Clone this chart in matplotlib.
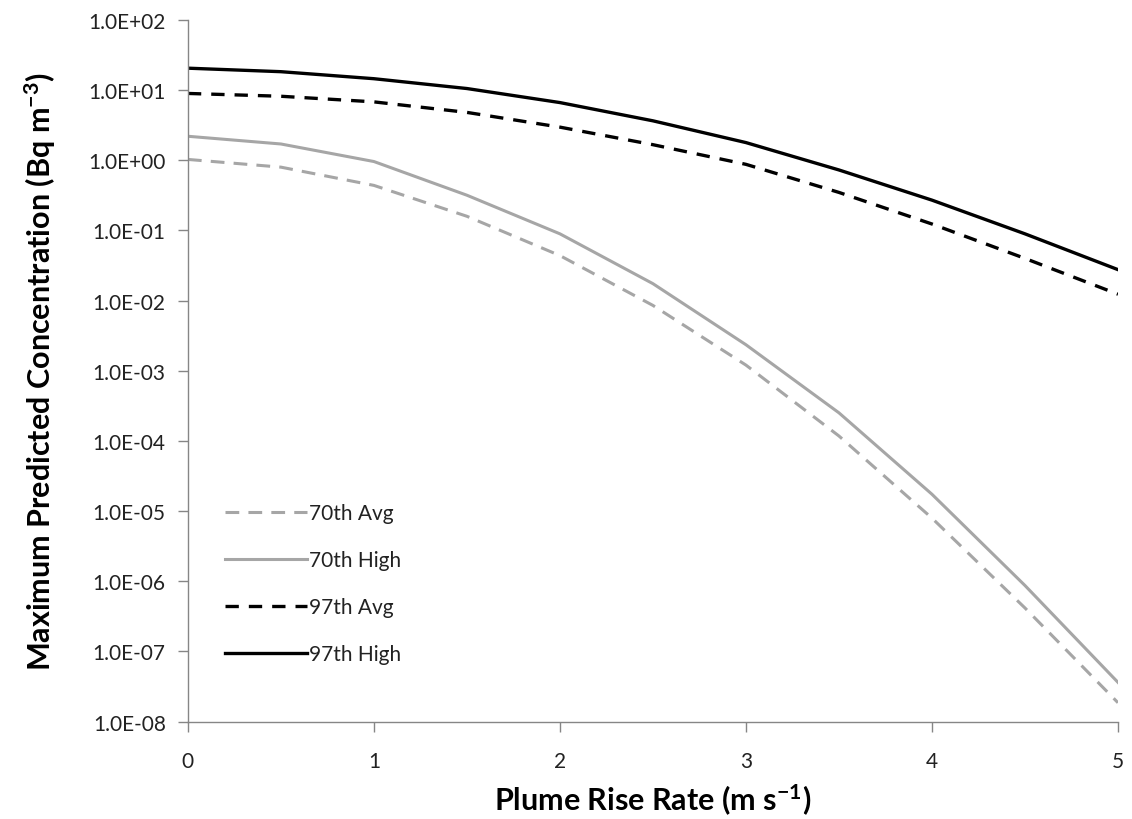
import numpy as np
import matplotlib.pyplot as plt
from matplotlib.ticker import FuncFormatter, LogLocator, NullLocator

plt.rcParams['font.family'] = ['Lato', 'DejaVu Sans']
plt.rcParams['mathtext.default'] = 'regular'

# plume rise rate (m s-1)
rise_rate = np.array([0, 0.5, 1, 1.5, 2, 2.5, 3, 3.5, 4, 4.5, 5])

# log10 of max predicted concentration (Bq m-3)
log_70_avg = np.array([0.01, -0.10, -0.36, -0.80, -1.36, -2.07, -2.92, -3.93, -5.10, -6.38, -7.73])
log_70_high = np.array([0.34, 0.23, -0.02, -0.50, -1.05, -1.76, -2.63, -3.60, -4.76, -6.06, -7.44])
log_97_avg = np.array([0.95, 0.91, 0.83, 0.68, 0.47, 0.22, -0.06, -0.46, -0.91, -1.40, -1.91])
log_97_high = np.array([1.31, 1.26, 1.16, 1.02, 0.82, 0.56, 0.25, -0.14, -0.57, -1.05, -1.56])

labels = ["70th Avg", "70th High", "97th Avg", "97th High"]

fig = plt.figure(figsize=(11.32, 8.2), dpi=100)
ax = fig.add_axes([0.166, 0.1187, 0.8216, 0.856])

grey = '#a6a6a6'
ax.plot(rise_rate, 10 ** log_70_avg, color=grey, lw=2.2, dashes=(4.5, 3), label=labels[0])
ax.plot(rise_rate, 10 ** log_70_high, color=grey, lw=2.2, label=labels[1])
ax.plot(rise_rate, 10 ** log_97_avg, color='black', lw=2.4, dashes=(4, 3), label=labels[2])
ax.plot(rise_rate, 10 ** log_97_high, color='black', lw=2.4, label=labels[3])

ax.set_yscale('log')
ax.set_ylim(1e-8, 1e2)
ax.set_xlim(0, 5)
ax.yaxis.set_major_locator(LogLocator(base=10, numticks=20))
ax.yaxis.set_minor_locator(NullLocator())
ax.yaxis.set_major_formatter(FuncFormatter(lambda v, p: f"{v:.1E}"))
ax.set_xticks(range(6))

for s in ['top', 'right']:
    ax.spines[s].set_visible(False)
for s in ['left', 'bottom']:
    ax.spines[s].set_color('#868686')
    ax.spines[s].set_linewidth(1.0)
ax.tick_params(axis='both', direction='out', length=7, width=1, color='#868686',
               labelsize=15, labelcolor='#222222')
ax.tick_params(axis='y', pad=9)
ax.tick_params(axis='x', pad=14)

ax.set_xlabel("Plume Rise Rate (m s$^{-1}$)", fontsize=22, fontweight='bold', labelpad=8)
ax.set_ylabel("Maximum Predicted Concentration (Bq m$^{-3}$)", fontsize=22, fontweight='bold', labelpad=22)

ax.legend(loc='lower left', bbox_to_anchor=(0.02, 0.055), frameon=False, fontsize=15,
          handlelength=3.9, handletextpad=0.1, labelspacing=1.3, labelcolor='#222222')

fig.savefig("out.png", dpi=100)
